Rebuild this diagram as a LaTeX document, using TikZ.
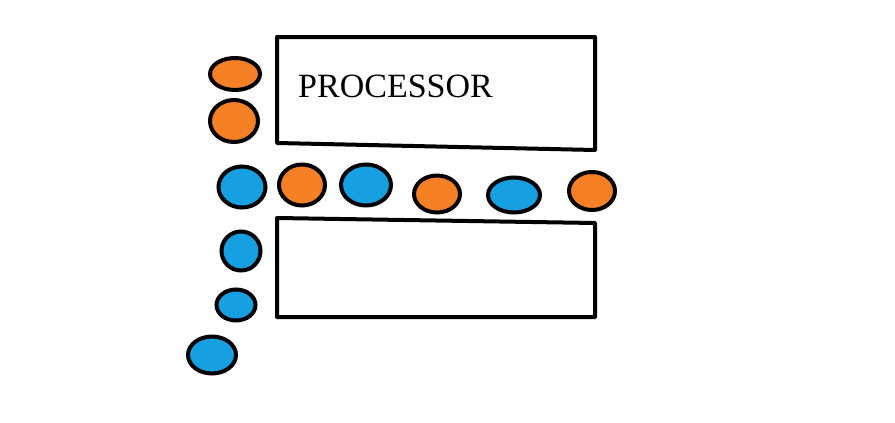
\documentclass[tikz,border=0pt]{standalone}
\usepackage{fontspec}
\setmainfont{Liberation Serif}
\usetikzlibrary{shapes.geometric}
\definecolor{ballorange}{RGB}{245,128,38}
\definecolor{ballblue}{RGB}{22,160,226}
\tikzset{
	ball/.style={ellipse, draw=black, line width=4pt, inner sep=0pt},
	orangeball/.style={ball, fill=ballorange},
	blueball/.style={ball, fill=ballblue},
	chip/.style={draw=black, line width=4pt, line join=round}
}

\begin{document}
\begin{tikzpicture}[x=1pt, y=-1pt]
		\useasboundingbox (0,0) rectangle (895,423);

		% the two boxes
		\draw[chip] (277,37) -- (595,37) -- (595,150) -- (277,143) -- cycle;
		\draw[chip] (277,218) -- (595,223) -- (595,317) -- (277,317) -- cycle;
		\node[anchor=base west, inner sep=0pt, font=\fontsize{34}{40}\selectfont] (proc) at (298,97) {PROCESSOR};

		% left column
		\node[orangeball, minimum width=50pt, minimum height=32pt] (o1) at (235,74) {};
		\node[orangeball, minimum width=48pt, minimum height=42pt] (o2) at (234,121) {};
		\node[blueball, minimum width=47pt, minimum height=41pt] (b1) at (242,187) {};
		\node[blueball, minimum width=39pt, minimum height=39pt] (b5) at (241,251) {};
		\node[blueball, minimum width=39pt, minimum height=31pt] (b6) at (236,305) {};
		\node[blueball, minimum width=48pt, minimum height=37pt] (b7) at (212,355) {};

		% the row between the boxes
		\node[orangeball, minimum width=46pt, minimum height=41pt] (o3) at (302,185) {};
		\node[blueball, minimum width=50pt, minimum height=41pt] (b2) at (366,185) {};
		\node[orangeball, minimum width=46pt, minimum height=37pt] (o4) at (437,194) {};
		\node[blueball, minimum width=52pt, minimum height=35pt] (b3) at (514,195) {};
		\node[orangeball, minimum width=46pt, minimum height=38pt] (o5) at (592,191) {};
	\end{tikzpicture}
\end{document}
